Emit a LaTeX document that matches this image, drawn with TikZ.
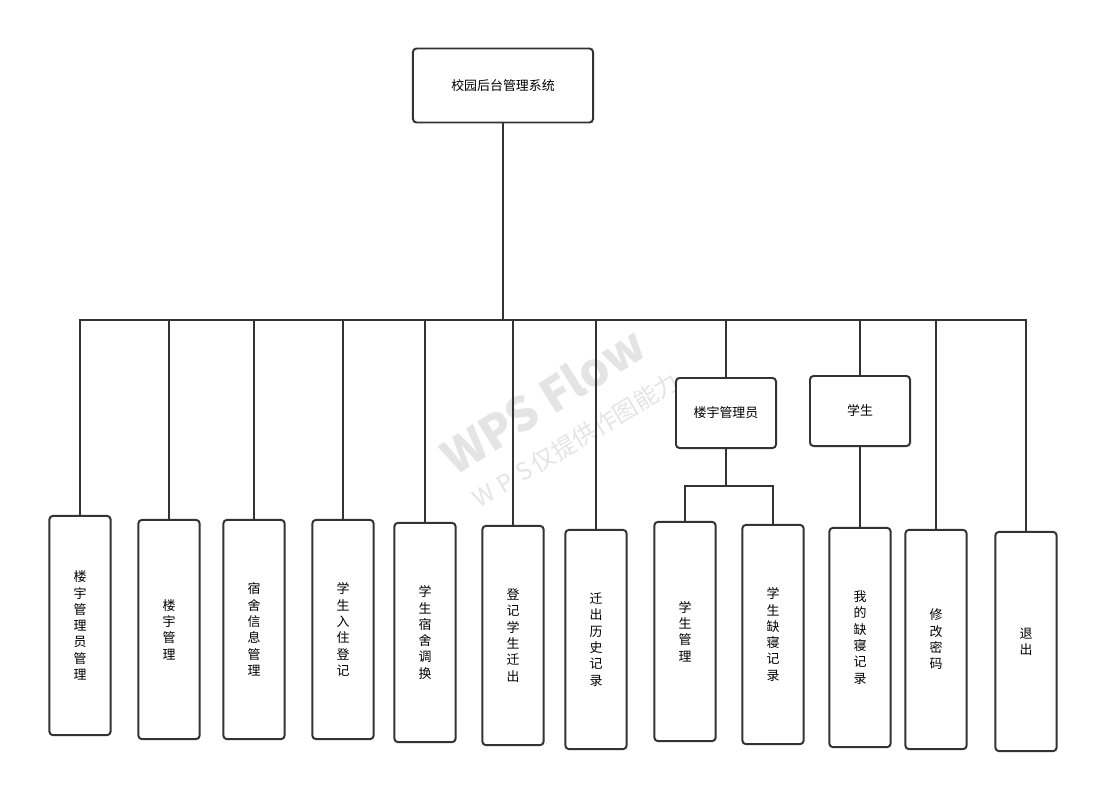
\documentclass[tikz,border=0pt]{standalone}
\usepackage{fontspec}
\setmainfont{Noto Sans CJK SC}
\usetikzlibrary{positioning}

\definecolor{linegray}{HTML}{333333}
\definecolor{markgray}{HTML}{E4E4E4}

\tikzset{
  box/.style={draw=linegray, line width=1.4pt, rounded corners=2.5pt, fill=white,
    align=center, font=\fontsize{9.2}{11.6}\selectfont, inner sep=0pt},
  topbox/.style={box, minimum width=4.5cm, minimum height=1.85cm},
  rolebox/.style={box, minimum width=2.5cm, minimum height=1.75cm},
  leafbox/.style={box, minimum width=1.53cm, minimum height=5.48cm},
  link/.style={draw=linegray, line width=1.3pt},
}

\begin{document}
\begin{tikzpicture}[x=0.025cm, y=-0.025cm]
    \useasboundingbox (0,0) rectangle (1118,811);

    % watermark
    \node[markgray, rotate=32, font=\fontsize{33}{33}\selectfont\bfseries] (wm) at (543,400) {WPS Flow};
    \node[markgray, rotate=31, font=\fontsize{17}{17}\selectfont] (wmsub) at (576,440) {W\;P\;S\,仅提供作图能力};

    % root and roles
    \node[topbox] (root) at (503,85.5) {校园后台管理系统};
    \node[rolebox] (mgr) at (726,413) {楼宇管理员};
    \node[rolebox] (stu) at (860,411) {学生};

    % leaves
    \foreach \n/\x/\y/\t in {
        1/80/625.5/{楼\\宇\\管\\理\\员\\管\\理},
        2/169/629.5/{楼\\宇\\管\\理},
        3/254/629.5/{宿\\舍\\信\\息\\管\\理},
        4/343/629.5/{学\\生\\入\\住\\登\\记},
        5/425/632.5/{学\\生\\宿\\舍\\调\\换},
        6/513/635.5/{登\\记\\学\\生\\迁\\出},
        7/596/639.5/{迁\\出\\历\\史\\记\\录},
        8/685/631.5/{学\\生\\管\\理},
        9/773/634.5/{学\\生\\缺\\寝\\记\\录},
        10/860/637.5/{我\\的\\缺\\寝\\记\\录},
        11/936/639.5/{修\\改\\密\\码},
        12/1026/641.5/{退\\出}}
        \node[leafbox] (lf\n) at (\x,\y) {\t};

    % connectors
    \coordinate (trunk) at (503,320);
    \coordinate (mgrbus) at (726,486);
    \foreach \c in {lf1,lf2,lf3,lf4,lf5,lf6,lf7,mgr,stu,lf11,lf12}
        \draw[link] (root.south) -- (trunk) -| (\c.north);
    \foreach \c in {lf8,lf9}
        \draw[link] (mgr.south) -- (mgrbus) -| (\c.north);
    \draw[link] (stu.south) -- (lf10.north);
\end{tikzpicture}
\end{document}
